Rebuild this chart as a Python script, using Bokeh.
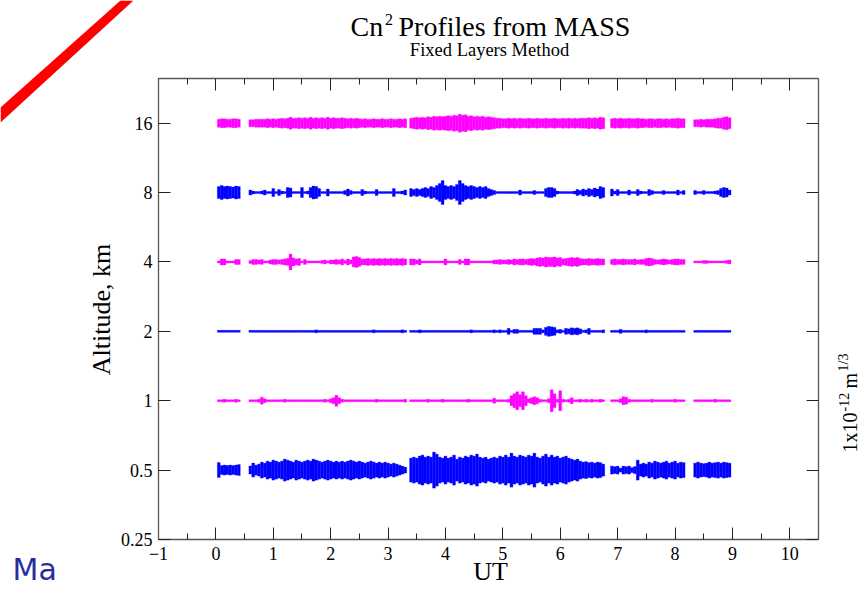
import math
from bokeh.plotting import figure
from bokeh.models import (Label, PolyAnnotation, FixedTicker, LinearAxis, LogAxis,
                          CustomJSTickFormatter, ColumnDataSource)
from bokeh.embed import file_html
from bokeh.resources import INLINE

# ---------------- data ----------------
x_ticks = [-1, 0, 1, 2, 3, 4, 5, 6, 7, 8, 9, 10]
x_minor = [-0.5, 0.5, 1.5, 2.5, 3.5, 4.5, 5.5, 6.5, 7.5, 8.5, 9.5]
alt_ticks = [0.25, 0.5, 1, 2, 4, 8, 16]
alt_labels = ["0.25", "0.5", "1", "2", "4", "8", "16"]
ut_limits = (-1, 10.5)
alt_limits = (0.25, 25)

# sampling: 0.05 h steps inside five continuous observing blocks
DT = 0.05
seg_start = [0.05, 0.60, 3.40, 6.90, 8.35]

# layer strengths (units of 1e-14 m^1/3), one list per observing block
alt_16 = [
    [4, 4.5, 4.5, 4, 4, 4.5, 4.5, 4],
    [3.5, 3.5, 4, 4, 4, 4, 4.5, 4, 4.5, 4, 4.5, 5, 4.5, 5, 6, 5, 5, 5.5, 5, 5.5,
     5, 6, 5, 5.5, 5, 5.5, 5, 6, 5, 5.5, 5, 5, 5.5, 5, 4.5, 5, 4.5, 5, 4.5, 4,
     4.5, 4, 4, 4.5, 4, 4, 4.5, 4, 4, 4.5, 4, 4, 4.5, 4, 4.5],
    [5, 5.5, 6, 5.5, 6, 5.5, 6.5, 6, 7, 6.5, 7, 6.5, 7, 7.5, 7, 8, 7.5, 9, 8, 8.5,
     7, 7.5, 6.5, 7, 6.5, 7, 6, 6.5, 6, 5.5, 5, 5, 4.5, 4.5, 5, 4.5, 5, 4.5, 5, 4.5,
     4.5, 5, 4.5, 4.5, 5, 4.5, 4.5, 5, 4.5, 4.5, 5, 4.5, 4.5, 5, 4.5, 5, 4.5, 5, 4.5, 5,
     5, 5, 5.5, 5, 5.5, 5, 6, 5.5],
    [4.5, 5, 4.5, 5, 4.5, 4.5, 5, 4.5, 4.5, 5, 4.5, 4.5, 4, 4.5, 4.5, 4, 4.5, 4.5, 4, 4.5,
     4, 4.5, 4.5, 5, 4.5, 4.5],
    [3.5, 3.5, 4, 3.5, 4, 4, 4, 4.5, 5, 5, 6, 6.5, 5.5],
]
alt_8 = [
    [6, 7, 6, 6.5, 6, 5.5, 6.5, 6],
    [2.5, 1.5, 1, 1, 1.5, 2.5, 1, 1, 4, 1, 3, 1.5, 1, 5, 4.5, 1, 1, 1, 5, 1,
     1.5, 5, 6.5, 6, 4, 1, 1, 3.5, 1, 1, 1, 1, 1, 2, 3.5, 2, 1, 1, 1, 3,
     1.5, 1, 1, 1, 3, 1, 1, 1, 1, 1, 4, 1, 1, 1.5, 2.5],
    [4, 3, 4, 3, 4, 5, 4, 6, 5, 7, 9, 12, 7, 6, 7, 6, 8, 12, 9, 7,
     6, 7, 6, 5, 6, 5, 6, 4, 3, 2, 1, 1, 1, 1, 1, 1, 1, 1, 2.5, 1,
     1, 1, 1, 2, 1, 1, 1, 4, 5, 5, 4, 1.5, 1, 1, 1, 1, 1, 1.5, 3, 2,
     3.5, 2.5, 4, 3, 4.5, 3.5, 6, 5],
    [3.5, 1.5, 3, 1, 1, 1, 2.5, 1, 1, 3, 1.5, 1, 1, 3, 2, 1, 1, 1, 2, 1,
     1, 1, 1, 2.5, 1, 2],
    [2, 1, 1, 2, 1, 1, 1, 1.5, 2, 4, 5, 4.5, 2.5],
]
alt_4 = [
    [1, 3, 3, 1, 1, 1, 2.5, 2.5],
    [1.5, 2.5, 2.5, 2, 2.5, 1, 1, 2, 2.5, 2.5, 2, 2.5, 3, 3.5, 8, 4, 3, 3.5, 1, 2.5,
     1, 1, 1, 1, 1, 1.5, 2, 1, 2, 2, 2.5, 2, 3, 1.5, 3, 2, 5, 5.5, 4.5, 3,
     3, 3.5, 3, 3.5, 3, 3.5, 3, 3.5, 3, 3.5, 3, 3.5, 3, 3.5, 3],
    [3, 3, 2, 3, 1, 1, 1, 1, 1, 1, 1, 1, 3, 1, 1, 1, 1, 2.5, 1, 3,
     3, 1, 1, 1, 1, 1, 1, 1, 1, 2, 2, 2.5, 2, 2, 2.5, 2, 3, 2.5, 3, 3,
     2.5, 3, 3.5, 3, 4, 4.5, 4, 5, 4.5, 4.5, 5, 4, 4.5, 3, 3.5, 4, 4.5, 4, 4.5, 3.5,
     3, 3, 3.5, 3, 3, 3.5, 3, 3],
    [2.5, 3, 2.5, 2.5, 3, 2.5, 2.5, 2.5, 3, 2, 2.5, 2.5, 3.5, 4, 3.5, 2.5, 2, 2.5, 3, 2.5,
     2, 2.5, 3, 3, 2.5, 2.5],
    [1, 1, 1, 1.5, 1.5, 1, 1, 1, 1, 1, 1, 1.5, 2],
]
alt_2 = [
    [1, 1, 1, 1, 1, 1, 1, 1],
    [1, 1, 1, 1, 1, 1, 1, 1, 1, 1, 1, 1, 1, 1, 1, 1, 1, 1, 1, 1,
     1, 1, 1, 1.5, 1, 1, 1, 1, 1, 1, 1, 1, 1, 1, 1, 1, 1, 1, 1, 1,
     1, 1, 1, 1.5, 1, 1, 1, 1, 1, 1, 1, 1, 1, 1.5, 1],
    [1, 1, 1, 1.5, 1, 1, 1, 1, 1, 1, 1, 1, 1, 1, 1, 1, 1, 1, 1, 1,
     1, 1.5, 1, 1, 1, 1, 1, 1, 1, 1.5, 1, 1.5, 1, 1, 3, 1, 2, 2, 1, 1,
     1, 1, 1, 3, 3, 3, 1.5, 4, 5, 4.5, 4, 1.5, 2, 1, 3, 2.5, 3.5, 3, 3.5, 2.5,
     1, 1.5, 3, 1, 1, 1, 1, 1.5],
    [1, 1, 1, 2, 1, 1, 1, 1, 1, 1, 1, 1, 1.5, 1, 1, 1, 1, 1, 1, 1,
     1, 1, 1, 1, 1, 1],
    [1, 1, 1, 1, 1, 1, 1, 1, 1, 1, 1, 1, 1],
]
alt_1 = [
    [1, 1, 1.5, 1, 1, 1, 1.5, 1],
    [1, 1, 1, 1.5, 3.5, 2, 1, 1, 1, 1, 1, 1, 1.5, 1, 1, 1, 1, 1, 1, 1,
     1, 1, 1, 1, 1, 1, 1.5, 1, 2, 3, 5.5, 3, 1.5, 1, 1, 1, 1, 1, 1, 1,
     1, 1, 1, 1, 1.5, 1, 1, 1, 1, 1, 1, 1, 1, 1, 1.5],
    [1, 1, 1, 1, 1, 1, 1.5, 1, 1, 1, 1, 1.5, 1, 1, 1, 1, 1, 1, 1, 1,
     1.5, 1, 1, 1, 1, 1, 1, 1, 1, 2.5, 1, 1, 1, 1, 1.5, 5, 7, 9, 6, 9,
     5, 2, 3, 4, 3, 1.5, 1, 1, 2, 11, 7, 1.5, 10, 1.5, 1, 1.5, 3, 1, 1, 1.5,
     1, 1.5, 1, 1.5, 1, 1, 1.5, 1],
    [1, 1, 1, 2, 4, 3.5, 1.5, 1, 1, 1, 1, 1, 1, 1, 1.5, 1, 1, 1, 1, 1,
     1, 1, 1.5, 1, 1, 1],
    [1, 1, 1, 1, 1, 1, 1, 1.5, 1, 1, 1, 1, 1],
]
alt_05 = [
    [7.5, 4.5, 5, 4.5, 5, 4.5, 5, 5.5],
    [4, 7, 5, 6, 8, 7, 9, 8, 10, 9, 8, 9, 11, 10, 9, 8, 10, 9, 8, 9,
     10, 9, 11, 10, 9, 8, 9, 10, 9, 8, 9, 8, 9, 8, 9, 10, 9, 8, 9, 8,
     7, 8, 9, 8, 7, 8, 7, 8, 7, 6, 7, 6, 5, 4, 3],
    [12, 13, 12, 14, 15, 13, 14, 13, 18, 16, 13, 12, 14, 12, 13, 15, 11, 13, 12, 14,
     13, 15, 14, 16, 13, 12, 13, 11, 12, 13, 12, 14, 13, 15, 13, 17, 14, 13, 15, 14,
     13, 15, 14, 17, 13, 12, 14, 16, 13, 15, 13, 14, 12, 13, 14, 12, 11, 10, 11, 9,
     8, 8.5, 7.5, 8, 7, 8, 7.5, 6],
    [4, 3.5, 4, 2, 4, 3.5, 4, 2.5, 3.5, 10, 6, 7, 6, 8, 7, 9, 8, 7, 8, 9,
     7, 8, 9, 7, 8, 7.5],
    [7, 8, 7, 6.5, 7, 8, 7, 7.5, 8, 7, 8, 7.5, 7],
]

layers = [
    (0.5, "#0000ff", alt_05),
    (1, "#ff00ff", alt_1),
    (2, "#0000ff", alt_2),
    (4, "#ff00ff", alt_4),
    (8, "#0000ff", alt_8),
    (16, "#ff00ff", alt_16),
]

# ---------------- layout / style ----------------
FONT = "Liberation Serif"
W, H = 864, 588
BOX_L, BOX_R, BOX_T, BOX_B = 158, 818, 78, 539      # plot box in canvas pixels
PXU = (BOX_R - BOX_L) / (ut_limits[1] - ut_limits[0])
OCT = (BOX_B - BOX_T) / math.log2(alt_limits[1] / alt_limits[0])
xr = (ut_limits[0] - BOX_L / PXU, ut_limits[1] + (W - BOX_R) / PXU)
yr = (alt_limits[0] * 2 ** (-(H - BOX_B) / OCT), alt_limits[1] * 2 ** (BOX_T / OCT))

p = figure(width=W, height=H, x_range=xr, y_range=yr, y_axis_type="log",
           output_backend="svg", toolbar_location=None,
           min_border=0, min_border_left=0, min_border_right=0,
           min_border_top=0, min_border_bottom=0)
p.grid.visible = False
p.background_fill_color = "white"
p.border_fill_color = "white"
p.outline_line_color = None

HALF_PX_PER_UNIT = 1.0
for alt, color, segs in layers:
    left, right, bottom, top = [], [], [], []
    for start, vals in zip(seg_start, segs):
        for i, v in enumerate(vals):
            t = start + DT * i
            f = 2 ** (v * HALF_PX_PER_UNIT / OCT)
            left.append(t - DT / 2)
            right.append(t + DT / 2)
            bottom.append(alt / f)
            top.append(alt * f)
    src = ColumnDataSource(dict(left=left, right=right, bottom=bottom, top=top))
    p.quad(left="left", right="right", bottom="bottom", top="top", source=src,
           fill_color=color, line_color=color, line_width=0.3)

xt = FixedTicker(ticks=x_ticks, minor_ticks=x_minor)
yt = FixedTicker(ticks=alt_ticks, minor_ticks=[])

def style_axis(ax):
    ax.axis_line_color = "#555555"
    ax.axis_line_width = 1.3
    ax.major_tick_line_color = "#222222"
    ax.minor_tick_line_color = "#222222"
    ax.major_tick_in = 12
    ax.major_tick_out = 0
    ax.minor_tick_in = 6
    ax.minor_tick_out = 0
    ax.major_label_text_font = FONT
    ax.major_label_text_font_size = "18px"
    ax.major_label_text_color = "black"

xa = p.xaxis[0]
xa.ticker = xt
xa.fixed_location = alt_limits[0]
xa.bounds = ut_limits
style_axis(xa)
xa.major_label_standoff = 7

ya = p.yaxis[0]
ya.ticker = yt
ya.fixed_location = ut_limits[0]
ya.bounds = alt_limits
style_axis(ya)
ya.major_label_standoff = 6
ya.major_label_overrides = {t: s for t, s in zip(alt_ticks, alt_labels)}

blank = CustomJSTickFormatter(code="return ''")
top_ax = LinearAxis(ticker=xt, formatter=blank, fixed_location=alt_limits[1],
                    bounds=ut_limits)
style_axis(top_ax)
p.add_layout(top_ax, "above")
right_ax = LogAxis(ticker=yt, formatter=blank, fixed_location=ut_limits[1],
                   bounds=alt_limits)
style_axis(right_ax)
p.add_layout(right_ax, "right")

BASE_SHIFT = 0.4   # rendered baseline sits this many ems below the anchor

def lab(text, x, y, size, angle=0.0, **kw):
    # x, y: where the text baseline should start, in canvas pixels from the top-left
    if angle:
        x = x - BASE_SHIFT * size
    else:
        y = y - BASE_SHIFT * size
    opts = dict(x=x, y=H - y, x_units="screen", y_units="screen", text=text,
                text_font=FONT, text_font_size=f"{size}px", text_color="black",
                text_baseline="alphabetic", angle=angle)
    opts.update(kw)
    p.add_layout(Label(**opts))

# title
lab("Cn", 350, 37, 28)
lab("2", 384.5, 25, 16)
lab("Profiles from MASS", 398, 37, 28)
lab("Fixed Layers Method", 489, 57, 18.5, text_align="center")
# axis titles
lab("UT", 490, 581, 26, text_align="center")
lab("Altitude, km", 111, 309, 26, angle=math.pi / 2, text_align="center")
# scale label on the right
lab("1x10", 857, 452, 20, angle=math.pi / 2)
lab("-12", 849, 411, 14, angle=math.pi / 2)
lab("m", 857, 388, 20, angle=math.pi / 2)
lab("1/3", 849, 371, 14, angle=math.pi / 2)
# stray text at the bottom-left
lab("Ma", 12, 581, 30, text_font="DejaVu Sans", text_color="#2b2ba0")

# red diagonal stroke in the top-left corner
p.add_layout(PolyAnnotation(xs=[0, 120, 133, 0], ys=[H - 107, H, H, H - 122],
                            xs_units="screen", ys_units="screen",
                            fill_color="#ff0000", fill_alpha=1.0, line_color=None))

open("out.html", "w").write(file_html(p, INLINE))
